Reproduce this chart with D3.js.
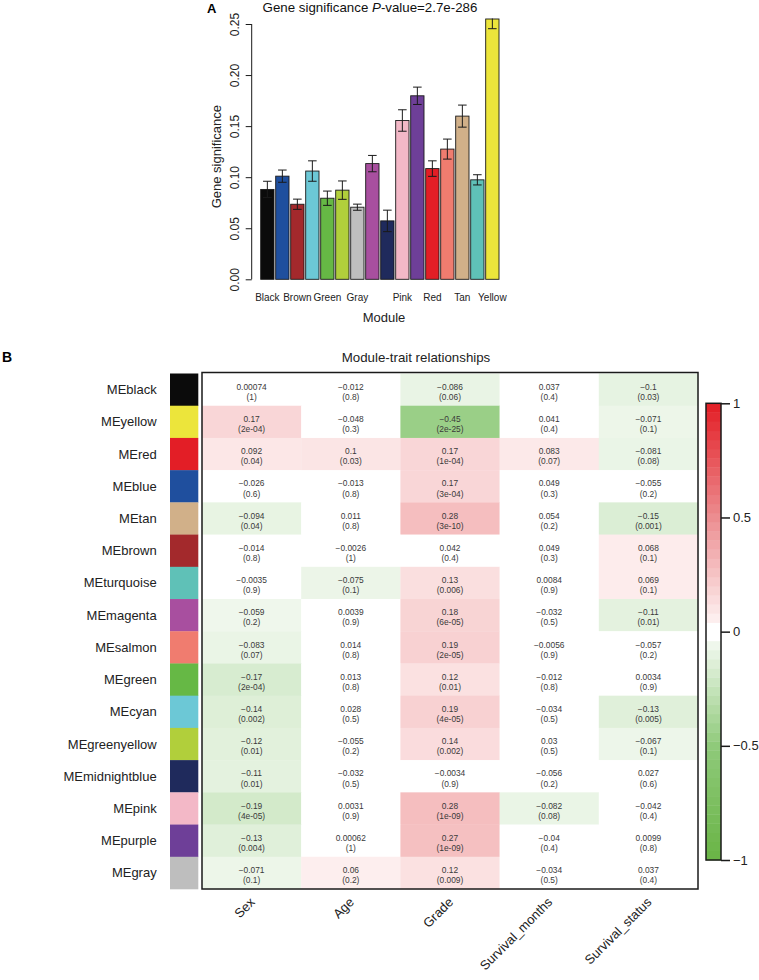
<!DOCTYPE html>
<html>
<head>
<meta charset="utf-8">
<script src="https://cdn.jsdelivr.net/npm/d3@7"></script>
<style>
  html, body { margin: 0; padding: 0; background: #ffffff; }
  svg { display: block; }
  text { font-family: "Liberation Sans", Arial, Helvetica, sans-serif; }
</style>
</head>
<body>
<svg id="chart" width="759" height="980"></svg>
<script>
// ---------------- Panel A data ----------------
const modules = ["black","blue","brown","cyan","green","greenyellow","gray","magenta","midnightblue","pink","purple","red","salmon","tan","turquoise","yellow"];
const moduleTickLabels = ["Black","","Brown","","Green","","Gray","","","Pink","","Red","","Tan","","Yellow"];
const gsMean = [0.088,0.101,0.0735,0.106,0.0794,0.0873,0.0706,0.1133,0.0572,0.1555,0.1797,0.1084,0.1275,0.1598,0.0974,0.2549];
const gsErr  = [0.008,0.006,0.005,0.010,0.007,0.009,0.003,0.008,0.0105,0.0105,0.0085,0.0076,0.0098,0.0108,0.005,0.0095];
const gsTicks = [0, 0.05, 0.10, 0.15, 0.20, 0.25];
const gsTickLabels = ["0.00","0.05","0.10","0.15","0.20","0.25"];

// ---------------- Panel B data ----------------
const meRows = ["MEblack","MEyellow","MEred","MEblue","MEtan","MEbrown","MEturquoise","MEmagenta","MEsalmon","MEgreen","MEcyan","MEgreenyellow","MEmidnightblue","MEpink","MEpurple","MEgray"];
const traits = ["Sex","Age","Grade","Survival_months","Survival_status"];
const corr = [
  [0.00074, -0.012, -0.086, 0.037, -0.1],
  [0.17, -0.048, -0.45, 0.041, -0.071],
  [0.092, 0.1, 0.17, 0.083, -0.081],
  [-0.026, -0.013, 0.17, 0.049, -0.055],
  [-0.094, 0.011, 0.28, 0.054, -0.15],
  [-0.014, -0.0026, 0.042, 0.049, 0.068],
  [-0.0035, -0.075, 0.13, 0.0084, 0.069],
  [-0.059, 0.0039, 0.18, -0.032, -0.11],
  [-0.083, 0.014, 0.19, -0.0056, -0.057],
  [-0.17, 0.013, 0.12, -0.012, 0.0034],
  [-0.14, 0.028, 0.19, -0.034, -0.13],
  [-0.12, -0.055, 0.14, 0.03, -0.067],
  [-0.11, -0.032, -0.0034, -0.056, 0.027],
  [-0.19, 0.0031, 0.28, -0.082, -0.042],
  [-0.13, 0.00062, 0.27, -0.04, 0.0099],
  [-0.071, 0.06, 0.12, -0.034, 0.037]
];
const pvals = [
  ["1","0.8","0.06","0.4","0.03"],
  ["2e-04","0.3","2e-25","0.4","0.1"],
  ["0.04","0.03","1e-04","0.07","0.08"],
  ["0.6","0.8","3e-04","0.3","0.2"],
  ["0.04","0.8","3e-10","0.2","0.001"],
  ["0.8","1","0.4","0.3","0.1"],
  ["0.9","0.1","0.006","0.9","0.1"],
  ["0.2","0.9","6e-05","0.5","0.01"],
  ["0.07","0.8","2e-05","0.9","0.2"],
  ["2e-04","0.8","0.01","0.8","0.9"],
  ["0.002","0.5","4e-05","0.5","0.005"],
  ["0.01","0.2","0.002","0.5","0.1"],
  ["0.01","0.5","0.9","0.2","0.6"],
  ["4e-05","0.9","1e-09","0.08","0.4"],
  ["0.004","1","1e-09","0.4","0.8"],
  ["0.1","0.2","0.009","0.5","0.4"]
];
const legendTicks = [1, 0.5, 0, -0.5, -1];

// ---------------- styles ----------------
const moduleColor = {
  black:"#0b0b0b", blue:"#1f4f9e", brown:"#a3292c", cyan:"#6cc8d6", green:"#66b845",
  greenyellow:"#b1cf3b", gray:"#bebebe", magenta:"#a84f9f", midnightblue:"#1f2a5c",
  pink:"#f3b8c7", purple:"#6e3f98", red:"#e31e26", salmon:"#f07c6f", tan:"#d1b089",
  turquoise:"#5fc1b7", yellow:"#ece53b"
};
const fmtNum = v => String(v).replace("-", "\u2212");

const svg = d3.select("#chart");

// ================= Panel A =================
const xA = d3.scaleBand().domain(modules).range([259.85, 499.85]).paddingInner(0.113).paddingOuter(0.0565);
const yA = d3.scaleLinear().domain([0, 0.25]).range([279.3, 24]);

const gA = svg.append("g");

svg.append("text").attr("x", 207).attr("y", 13).attr("font-size", 13).attr("font-weight", "bold").text("A");

const title = gA.append("text").attr("x", 370).attr("y", 12).attr("text-anchor", "middle").attr("font-size", 13.3).attr("fill", "#111");
title.append("tspan").text("Gene significance ");
title.append("tspan").attr("font-style", "italic").text("P");
title.append("tspan").text("-value=2.7e-286");

// bars
gA.selectAll("rect.bar").data(modules).join("rect")
  .attr("class", "bar")
  .attr("x", d => xA(d))
  .attr("y", (d, i) => yA(gsMean[i]))
  .attr("width", xA.bandwidth())
  .attr("height", (d, i) => yA(0) - yA(gsMean[i]))
  .attr("fill", d => moduleColor[d])
  .attr("stroke", "#1a1a1a").attr("stroke-width", 0.9);

// error bars (clipped to the plot region)
const topY = yA(d3.max(gsMean));
svg.append("clipPath").attr("id", "plotClip").append("rect")
  .attr("x", 240).attr("y", topY - 0.5).attr("width", 280).attr("height", yA(0) - topY + 1);
const eb = gA.append("g").attr("clip-path", "url(#plotClip)").attr("stroke", "#1a1a1a").attr("stroke-width", 1);
modules.forEach((m, i) => {
  const cx = xA(m) + xA.bandwidth() / 2;
  const hi = yA(gsMean[i] + gsErr[i]), lo = yA(gsMean[i] - gsErr[i]);
  eb.append("line").attr("x1", cx).attr("x2", cx).attr("y1", hi).attr("y2", lo);
  eb.append("line").attr("x1", cx - 4.3).attr("x2", cx + 4.3).attr("y1", hi).attr("y2", hi);
  eb.append("line").attr("x1", cx - 4.3).attr("x2", cx + 4.3).attr("y1", lo).attr("y2", lo);
});

// y axis
const yAxis = d3.axisLeft(yA).tickValues(gsTicks).tickSize(6).tickFormat((d, i) => gsTickLabels[i]);
const yAx = gA.append("g").attr("transform", "translate(251.7,0)").call(yAxis);
yAx.select(".domain").attr("stroke", "#1a1a1a").attr("d", `M0,${yA(0)}V${yA(0.25)}`);
yAx.selectAll(".tick line").attr("stroke", "#1a1a1a");
yAx.selectAll(".tick text")
  .attr("font-size", 12).attr("fill", "#222")
  .attr("x", null).attr("dy", null)
  .attr("text-anchor", "middle")
  .attr("transform", "translate(-10,0) rotate(-90)")
  .attr("y", 0).attr("dy", "-0.2em");

// x labels
const xAx = gA.append("g").attr("transform", `translate(0,${yA(0)})`)
  .call(d3.axisBottom(xA).tickSize(0).tickFormat((d, i) => moduleTickLabels[i]));
xAx.select(".domain").remove();
xAx.selectAll(".tick text").attr("font-size", 10).attr("fill", "#222").attr("y", 22).attr("dy", 0);

gA.append("text").attr("x", 384).attr("y", 321.5).attr("text-anchor", "middle").attr("font-size", 13).attr("fill", "#222").text("Module");
gA.append("text").attr("transform", `translate(221,${(yA(0) + yA(0.25)) / 2 + 5}) rotate(-90)`)
  .attr("text-anchor", "middle").attr("font-size", 13).attr("fill", "#222").text("Gene significance");

// ================= Panel B =================
svg.append("text").attr("x", 2).attr("y", 362).attr("font-size", 14).attr("font-weight", "bold").text("B");

const boxL = 202, boxR = 698, boxT = 373.5, boxB = 889;
const xB = d3.scaleBand().domain(traits).range([boxL, boxR]);
const yB = d3.scaleBand().domain(meRows).range([boxT, boxB]);

const baseColor = d3.scaleLinear()
  .domain([-1, -0.5, -0.06, 0, 0.06, 0.5, 1])
  .range(["#69b446", "#8fca7a", "#eff7ec", "#ffffff", "#fdeeee", "#ec8d90", "#e31e25"])
  .clamp(true);
const cellColor = v => Math.abs(v) < 0.058 ? "#ffffff" : baseColor(v);

svg.append("text").attr("x", 416).attr("y", 361.5).attr("text-anchor", "middle").attr("font-size", 13.3).attr("fill", "#222").text("Module-trait relationships");

const gB = svg.append("g");
const cells = [];
meRows.forEach((r, i) => traits.forEach((t, j) => cells.push({ r, t, v: corr[i][j], p: pvals[i][j] })));

gB.selectAll("rect.cell").data(cells).join("rect")
  .attr("class", "cell")
  .attr("x", d => xB(d.t)).attr("y", d => yB(d.r))
  .attr("width", xB.bandwidth() + 0.3).attr("height", yB.bandwidth() + 0.3)
  .attr("fill", d => cellColor(d.v));

const ct = gB.selectAll("g.ct").data(cells).join("g").attr("class", "ct")
  .attr("transform", d => `translate(${xB(d.t) + xB.bandwidth() / 2},${yB(d.r) + yB.bandwidth() / 2})`);
ct.append("text").attr("text-anchor", "middle").attr("dominant-baseline", "central").attr("y", -2.8)
  .attr("font-size", 8.4).attr("fill", "#3a3a3a").text(d => fmtNum(d.v));
ct.append("text").attr("text-anchor", "middle").attr("dominant-baseline", "central").attr("y", 7.3)
  .attr("font-size", 8.4).attr("fill", "#3a3a3a").text(d => `(${d.p})`);

gB.append("rect").attr("x", boxL).attr("y", boxT - 1).attr("width", boxR - boxL).attr("height", boxB - boxT + 1)
  .attr("fill", "none").attr("stroke", "#1a1a1a").attr("stroke-width", 1.5);

// module colour swatches and labels
gB.selectAll("rect.sw").data(meRows).join("rect").attr("class", "sw")
  .attr("x", 170).attr("width", 28.3)
  .attr("y", d => yB(d)).attr("height", yB.bandwidth() + 0.3)
  .attr("fill", d => moduleColor[d.slice(2)]);
gB.selectAll("text.rl").data(meRows).join("text").attr("class", "rl")
  .attr("x", 156.7).attr("y", d => yB(d) + yB.bandwidth() / 2)
  .attr("text-anchor", "end").attr("dominant-baseline", "central")
  .attr("font-size", 13).attr("fill", "#222").text(d => d);

// trait labels (rotated 45)
gB.selectAll("text.tl").data(traits).join("text").attr("class", "tl")
  .attr("transform", d => `translate(${xB(d) + xB.bandwidth() / 2 + 4},${boxB + 14}) rotate(-45)`)
  .attr("text-anchor", "end").attr("font-size", 13).attr("fill", "#222").text(d => d);

// colour legend
const yL = d3.scaleLinear().domain([-1, 1]).range([860, 403.3]);
const gL = svg.append("g");
const steps = d3.range(50).map(k => -1 + k * 0.04);
gL.selectAll("rect.step").data(steps).join("rect").attr("class", "step")
  .attr("x", 706).attr("width", 15)
  .attr("y", d => yL(d + 0.04)).attr("height", d => yL(d) - yL(d + 0.04) + 0.4)
  .attr("fill", d => cellColor(d + 0.02));
gL.append("rect").attr("x", 706).attr("y", yL(1)).attr("width", 15).attr("height", yL(-1) - yL(1))
  .attr("fill", "none").attr("stroke", "#1a1a1a").attr("stroke-width", 1.5);
const legAxis = d3.axisRight(yL).tickValues(legendTicks).tickSize(9).tickFormat(d => fmtNum(d));
const lAx = gL.append("g").attr("transform", "translate(721,0)").call(legAxis);
lAx.select(".domain").remove();
lAx.selectAll(".tick line").attr("stroke", "#1a1a1a").attr("stroke-width", 1.5);
lAx.selectAll(".tick text").attr("font-size", 13).attr("fill", "#222").attr("x", 12);
</script>
</body>
</html>
